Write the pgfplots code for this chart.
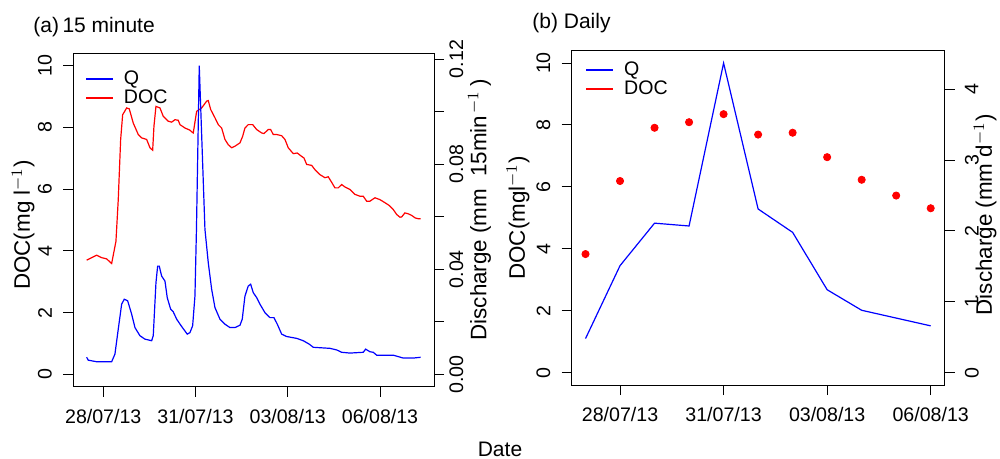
\documentclass[border=0pt]{standalone}
\usepackage{fontspec}
\setmainfont{Liberation Sans}
\usepackage{pgfplots}
\usepackage{pgfplotstable}
\pgfplotsset{compat=1.18}

\definecolor{rblue}{RGB}{0,0,255}
\definecolor{rred}{RGB}{255,0,0}
\newcommand{\tickfont}{\fontsize{9.8}{11}\selectfont}
\newcommand{\labfont}{\fontsize{10.5}{12}\selectfont}
\newcommand{\ylabfont}{\fontsize{11.2}{13}\selectfont}

% 15 minute series: day (0 = 28/07/13), DOC in mg/l
\pgfplotstableread{
day doc
-0.540 3.70
-0.215 3.86
-0.052 3.78
0.111 3.74
0.273 3.59
0.413 4.31
0.488 5.66
0.566 7.61
0.631 8.41
0.761 8.63
0.846 8.60
0.976 8.14
1.138 7.77
1.249 7.66
1.411 7.61
1.519 7.34
1.607 7.26
1.649 8.04
1.714 8.68
1.844 8.63
1.951 8.36
2.114 8.20
2.224 8.17
2.332 8.25
2.439 8.23
2.494 8.09
2.657 7.98
2.820 7.91
2.894 7.84
2.927 7.82
3.037 8.52
3.200 8.63
3.363 8.85
3.415 8.87
3.493 8.58
3.633 8.31
3.740 8.09
3.850 7.98
3.958 7.61
4.065 7.44
4.176 7.34
4.283 7.39
4.446 7.50
4.533 7.71
4.608 7.98
4.715 8.09
4.859 8.09
4.989 7.93
5.151 7.82
5.226 7.80
5.366 7.93
5.444 7.93
5.528 7.77
5.639 7.77
5.802 7.73
5.909 7.61
6.016 7.34
6.179 7.15
6.309 7.17
6.452 7.06
6.527 7.01
6.615 6.80
6.777 6.77
6.885 6.63
7.047 6.47
7.210 6.37
7.317 6.40
7.428 6.22
7.535 6.04
7.642 6.04
7.753 6.15
7.860 6.07
8.023 5.99
8.185 5.83
8.348 5.77
8.455 5.77
8.566 5.61
8.673 5.61
8.836 5.72
8.998 5.66
9.161 5.56
9.301 5.47
9.431 5.34
9.541 5.18
9.649 5.09
9.704 5.10
9.811 5.23
9.919 5.20
10.029 5.15
10.137 5.07
10.244 5.04
10.322 5.04
}\docfifteen

% 15 minute series: discharge in mm per 15 min
\pgfplotstableread{
day q
-0.540 0.0065
-0.488 0.0054
-0.215 0.0048
0.273 0.0048
0.380 0.0077
0.488 0.0172
0.598 0.0267
0.683 0.0286
0.793 0.0280
0.924 0.0229
1.031 0.0178
1.193 0.0147
1.356 0.0134
1.574 0.0128
1.626 0.0147
1.714 0.0349
1.769 0.0412
1.821 0.0412
1.899 0.0374
2.007 0.0355
2.081 0.0292
2.192 0.0248
2.276 0.0238
2.387 0.0210
2.550 0.0182
2.732 0.0153
2.820 0.0159
2.907 0.0185
2.982 0.0298
3.031 0.0552
3.122 0.1175
3.307 0.0552
3.415 0.0425
3.525 0.0324
3.633 0.0254
3.795 0.0210
3.958 0.0191
4.120 0.0178
4.283 0.0178
4.446 0.0187
4.520 0.0210
4.608 0.0298
4.715 0.0336
4.794 0.0343
4.878 0.0311
4.989 0.0292
5.096 0.0267
5.258 0.0235
5.421 0.0216
5.551 0.0216
5.659 0.0191
5.802 0.0153
5.964 0.0144
6.289 0.0137
6.504 0.0128
6.699 0.0115
6.829 0.0103
7.372 0.0099
7.590 0.0093
7.753 0.0084
8.023 0.0081
8.455 0.0084
8.533 0.0096
8.673 0.0086
8.780 0.0084
8.891 0.0073
9.431 0.0073
9.756 0.0062
10.081 0.0062
10.322 0.0065
}\qfifteen

% daily series: DOC in mg/l, discharge in mm/d
\pgfplotstableread{
day doc q
-1 3.83 0.48
0 6.19 1.51
1 7.91 2.11
2 8.09 2.07
3 8.35 4.37
4 7.69 2.31
5 7.75 1.98
6 6.96 1.17
7 6.23 0.88
8 5.72 0.77
9 5.31 0.66
}\daily

\pgfplotsset{
  rbase/.style={
    scale only axis,
    axis line style={black, line width=0.5pt},
    every tick/.style={black, line width=0.5pt},
    tick align=outside,
    major tick length=5pt,
    /pgf/number format/assume math mode=true,
    tick label style={font=\tickfont},
    label style={font=\ylabfont},
    yticklabel style={rotate=90, inner sep=0pt},
    xticklabel style={inner sep=0pt},
  },
  rleft/.style={
    rbase,
    xtick pos=bottom, ytick pos=left,
    ymin=-0.4, ymax=10.4, ytick={0,2,4,6,8,10},
    xtick={0,3,6,9},
    xticklabels={28/07/13,31/07/13,03/08/13,06/08/13},
    yticklabel style={anchor=south},
    xticklabel shift=6pt,
    yticklabel shift=5.5pt,
  },
  rright/.style={
    rbase,
    axis x line=none, axis y line*=right,
    yticklabel style={anchor=north},
    legend style={draw=none, fill=none, inner sep=0pt, row sep=0pt,
      column sep=5pt, font=\fontsize{9.8}{11}\selectfont,
      nodes={inner sep=0pt, text height=7.3pt, text depth=2.2pt}},
    legend cell align=left,
    legend image code/.code={\path[draw, line width=0.85pt, #1] (0pt,0.25pt) -- (13.5pt,0.25pt);},
  },
}

\begin{document}
\begin{tikzpicture}
\useasboundingbox (0,0) rectangle (500pt,-229.5pt);

% (a) 15 minute
\begin{axis}[rleft, at={(36.65pt,-193.35pt)}, anchor=south west,
  width=180.35pt, height=166.7pt,
  xmin=-0.974, xmax=10.756,
  ylabel={DOC(mg l$^{-1}$)},
  ylabel style={at={(axis description cs:-0.139,0.485)}, anchor=center}]
\addplot[rred, line width=0.6pt] table[x=day, y=doc] {\docfifteen};
\end{axis}
\begin{axis}[rright, at={(36.65pt,-193.35pt)}, anchor=south west,
  width=180.35pt, height=166.7pt,
  xmin=-0.974, xmax=10.756,
  ymin=-0.0047, ymax=0.1222,
  yticklabel shift=2.5pt,
  ytick={0,0.02,0.04,0.06,0.08,0.10,0.12},
  yticklabels={0.00,,0.04,,0.08,,0.12},
  ylabel={Discharge (mm\hspace{6pt}15min\hspace{1pt}$^{-1}$\hspace{2pt})},
  ylabel style={at={(axis description cs:1.126,0.53)}, anchor=center},
  legend style={at={(axis description cs:0.032,0.952)}, anchor=north west}]
\addplot[draw=rblue, line width=0.6pt, forget plot] table[x=day, y=q] {\qfifteen};
\addlegendimage{draw=rblue}
\addlegendimage{draw=rred}
\legend{Q, DOC}
\end{axis}

% (b) daily
\begin{axis}[rleft, at={(285.85pt,-192.5pt)}, anchor=south west,
  width=186.4pt, height=167.15pt,
  xmin=-1.4, xmax=9.4,
  ylabel={DOC(mgl$^{-1}$)},
  ylabel style={at={(axis description cs:-0.144,0.5)}, anchor=center}]
\addplot[only marks, mark=*, mark size=1.8pt, color=rred] table[x=day, y=doc] {\daily};
\end{axis}
\begin{axis}[rright, at={(285.85pt,-192.5pt)}, anchor=south west,
  width=186.4pt, height=167.15pt,
  xmin=-1.4, xmax=9.4,
  ymin=-0.175, ymax=4.545,
  yticklabel shift=5pt,
  ytick={0,1,2,3,4},
  ylabel={Discharge (mm d$^{-1}$)},
  ylabel style={at={(axis description cs:1.109,0.509)}, anchor=center},
  legend style={at={(axis description cs:0.036,0.971)}, anchor=north west}]
\addplot[draw=rblue, line width=0.6pt, forget plot] table[x=day, y=q] {\daily};
\addlegendimage{draw=rblue}
\addlegendimage{draw=rred}
\legend{Q, DOC}
\end{axis}

\node[anchor=base west, inner sep=0pt, font=\labfont] at (16.5pt,-16.1pt) {(a)\,15 minute};
\node[anchor=base west, inner sep=0pt, font=\labfont] at (266pt,-14.1pt) {(b) Daily};
\node[anchor=base, inner sep=0pt, font=\labfont] at (250pt,-228.3pt) {Date};
\end{tikzpicture}
\end{document}
